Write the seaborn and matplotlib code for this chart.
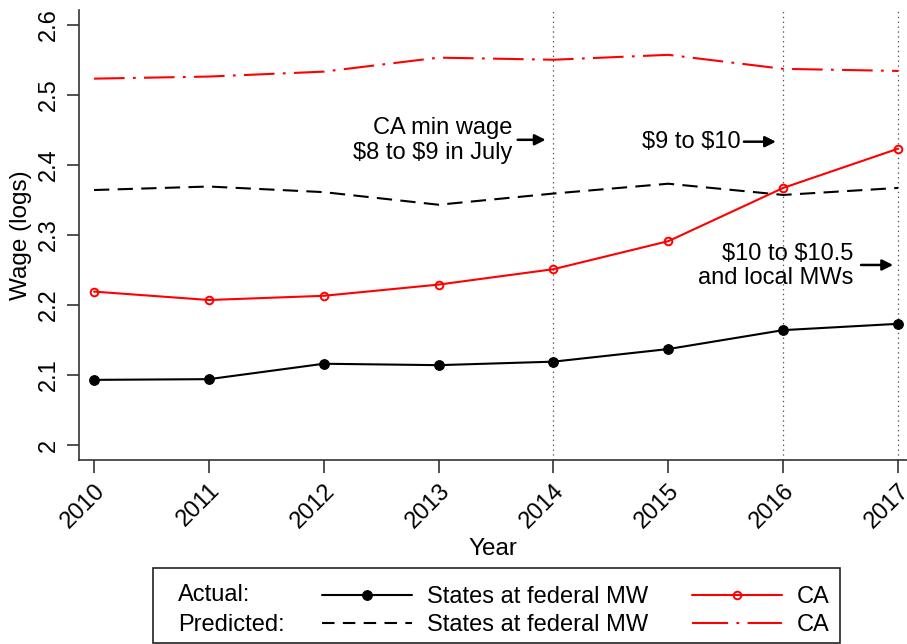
import numpy as np
import pandas as pd
import seaborn as sns
import matplotlib.pyplot as plt
from matplotlib.patches import Rectangle

# Data
years = [2010, 2011, 2012, 2013, 2014, 2015, 2016, 2017]
actual_fed = [2.093, 2.094, 2.116, 2.114, 2.119, 2.137, 2.164, 2.173]
actual_ca = [2.219, 2.207, 2.213, 2.229, 2.251, 2.291, 2.367, 2.423]
pred_fed = [2.364, 2.369, 2.361, 2.343, 2.359, 2.373, 2.357, 2.367]
pred_ca = [2.523, 2.526, 2.533, 2.553, 2.550, 2.557, 2.537, 2.534]
event_years = [2014, 2016, 2017]
y_ticks = [2.0, 2.1, 2.2, 2.3, 2.4, 2.5, 2.6]
y_tick_labels = ["2", "2.1", "2.2", "2.3", "2.4", "2.5", "2.6"]

sns.set_style("ticks")
plt.rcParams["font.family"] = ["Liberation Sans", "DejaVu Sans"]
plt.rcParams["lines.scale_dashes"] = False
plt.rcParams["text.color"] = "black"
plt.rcParams["axes.labelcolor"] = "black"
plt.rcParams["xtick.labelcolor"] = "black"
plt.rcParams["ytick.labelcolor"] = "black"

fig = plt.figure(figsize=(9.07, 6.44), dpi=100)
ax = fig.add_axes([79 / 907, 1 - 460 / 644, 828 / 907, 450 / 644])

lw = 1.5
sns.lineplot(x=years, y=actual_fed, ax=ax, color="black", lw=lw,
             marker="o", markersize=7, markeredgecolor="black",
             label="States at federal MW")
sns.lineplot(x=years, y=pred_fed, ax=ax, color="black", lw=lw,
             label="States at federal MW")
sns.lineplot(x=years, y=actual_ca, ax=ax, color="red", lw=lw,
             marker="o", markersize=5.5, markerfacecolor="none",
             markeredgecolor="red", markeredgewidth=1.4, label="CA")
sns.lineplot(x=years, y=pred_ca, ax=ax, color="red", lw=lw, label="CA")

lines = ax.get_lines()
lines[1].set_dashes((11, 6))
lines[3].set_dashes((22, 6, 2, 6))

for yr in event_years:
    ax.axvline(yr, color="#555555", ls=(0, (1, 2.5)), lw=0.9, zorder=0)

ax.set_xlim(2009.869, 2017.078)
ax.set_ylim(1.9786, 2.621)
ax.set_xticks(years)
ax.set_xticklabels([str(y) for y in years], rotation=45, ha="right",
                   rotation_mode="anchor", fontsize=17)
ax.set_yticks(y_ticks)
ax.set_yticklabels(y_tick_labels, rotation=90, va="center", fontsize=17)
ax.tick_params(axis="both", length=9, width=1.2, color="#333333", pad=5)
ax.set_xlabel("Year", fontsize=17.5, labelpad=4)
ax.set_ylabel("Wage (logs)", fontsize=17.5, labelpad=4)
sns.despine(ax=ax, top=True, right=True)
for side in ["left", "bottom"]:
    ax.spines[side].set_linewidth(1.2)
    ax.spines[side].set_color("#333333")

# Annotations with arrows
arrow = dict(arrowstyle="-|>", color="black", lw=1.8, mutation_scale=16,
             shrinkA=0, shrinkB=0)
ax.annotate("", xy=(2013.932, 2.4357), xytext=(2013.688, 2.4357),
            arrowprops=arrow)
ax.text(2013.644, 2.435, "CA min wage\n\\$8 to \\$9 in July", ha="right",
        va="center", fontsize=17, linespacing=1.15)
ax.annotate("", xy=(2015.937, 2.433), xytext=(2015.658, 2.433),
            arrowprops=arrow)
ax.text(2015.632, 2.433, "\\$9 to \\$10", ha="right", va="center",
        fontsize=17)
ax.annotate("", xy=(2016.957, 2.257), xytext=(2016.678, 2.257),
            arrowprops=arrow)
ax.text(2016.608, 2.2557, "\\$10 to \\$10.5\nand local MWs", ha="right",
        va="center", fontsize=17, linespacing=1.15)

# Legend: lines in two columns, row labels and frame drawn separately
handles = lines[:4]
labels = ["States at federal MW", "States at federal MW", "CA", "CA"]
ax.get_legend().remove()
leg = fig.legend(handles, labels, ncol=2, frameon=False, fontsize=17,
                 loc="center left", bbox_to_anchor=(322 / 907, 1 - 611 / 644),
                 handlelength=3.8, handletextpad=0.64, columnspacing=1.86,
                 labelspacing=0.25, borderpad=0.0, borderaxespad=0.0)
for line in leg.get_lines():
    line.set_linewidth(1.5)
leg.get_lines()[1].set_dashes((9, 6))
leg.get_lines()[3].set_dashes((26, 6, 2, 6))
fig.text(178 / 907, 1 - 595 / 644, "Actual:", fontsize=17, va="center")
fig.text(178 / 907, 1 - 625 / 644, "Predicted:", fontsize=17, va="center")
fig.patches.append(Rectangle((153 / 907, 1 - 643 / 644), 687 / 907, 75 / 644,
                             transform=fig.transFigure, fill=False,
                             edgecolor="#222222", lw=1.2))

fig.savefig("out.png", dpi=100)
